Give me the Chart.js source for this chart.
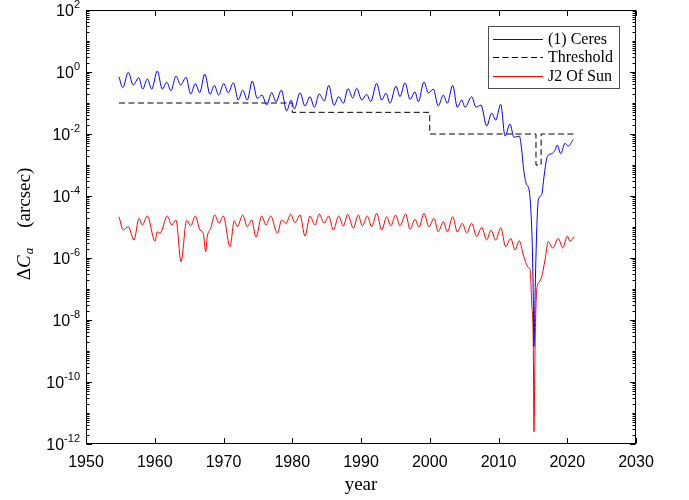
<!DOCTYPE html>
<html><head><meta charset="utf-8">
<script src="https://cdn.jsdelivr.net/npm/chart.js@4/dist/chart.umd.min.js"></script>
<style>html,body{margin:0;padding:0;background:#fff;}canvas{display:block;}</style>
</head><body>
<canvas id="c" width="689" height="500"></canvas>
<script>
// ---- data ----
const ceresYears = [1954.8,1955.34,1956.15,1956.88,1957.67,1958.25,1958.92,1959.56,1960.37,1961.10,1961.74,1962.36,1963.09,1963.77,1964.55,1965.23,1965.90,1966.54,1967.27,1968.04,1968.66,1969.30,1970.03,1970.70,1971.43,1972.15,1972.79,1973.46,1974.19,1974.92,1975.60,1976.28,1977.01,1977.64,1978.41,1979.19,1979.82,1980.30,1981.13,1981.85,1982.58,1983.21,1983.93,1984.66,1985.30,1986.07,1986.76,1987.43,1988.11,1988.79,1989.37,1990.10,1990.83,1991.41,1992.28,1993.01,1993.64,1994.22,1995.09,1995.67,1996.40,1997.13,1997.85,1998.33,1999.16,1999.79,2000.52,2001.24,2001.97,2002.55,2003.34,2004.01,2004.65,2005.13,2006.10,2006.73,2007.45,2008.28,2009.01,2009.59,2010.32,2010.95,2011.67,2012.25,2013.03,2013.37,2013.61,2014.00,2014.48,2014.73,2014.92,2015.06,2015.16,2015.31,2015.56,2015.79,2016.28,2016.62,2017.01,2017.24,2017.74,2018.22,2018.55,2019.05,2019.67,2020.15,2020.88];
const ceresValues = [0.70,0.31,0.98,0.38,0.66,0.28,0.60,0.28,1.08,0.28,0.47,0.25,0.74,0.38,0.68,0.195,0.42,0.215,0.86,0.19,0.37,0.18,0.42,0.215,0.45,0.125,0.26,0.125,0.51,0.14,0.18,0.086,0.215,0.11,0.26,0.055,0.125,0.064,0.215,0.080,0.16,0.073,0.195,0.116,0.37,0.084,0.16,0.098,0.29,0.145,0.30,0.125,0.19,0.11,0.43,0.125,0.21,0.098,0.35,0.16,0.45,0.13,0.23,0.11,0.48,0.21,0.28,0.080,0.18,0.098,0.37,0.073,0.125,0.073,0.16,0.073,0.086,0.018,0.047,0.028,0.091,0.0086,0.021,0.0078,0.0086,0.0031,0.00088,0.00026,0.000145,2.8e-5,2.3e-6,5.6e-8,1.4e-9,5.6e-8,8.0e-6,7.4e-5,1.1e-4,4.2e-4,1.6e-3,2.1e-3,2.3e-3,3.0e-3,4.4e-3,2.3e-3,5.0e-3,4.1e-3,6.7e-3];

const j2Years = [1954.8,1955.43,1956.15,1956.98,1957.71,1958.19,1958.92,1960.04,1960.37,1960.76,1961.83,1962.47,1963.09,1963.82,1964.65,1965.23,1965.90,1966.58,1967.06,1967.41,1967.64,1968.14,1968.72,1969.35,1969.97,1970.95,1971.57,1972.01,1972.79,1973.46,1974.10,1974.73,1975.56,1976.18,1976.87,1977.83,1978.47,1979.09,1979.77,1980.40,1981.13,1981.85,1982.58,1983.31,1983.93,1984.62,1985.30,1985.97,1986.76,1987.43,1988.07,1988.88,1989.61,1990.19,1990.92,1991.56,1992.28,1993.01,1993.74,1994.32,1995.05,1995.67,1996.50,1997.13,1997.85,1998.44,1999.16,1999.89,2000.62,2001.24,2001.97,2002.55,2003.34,2004.01,2004.74,2005.37,2006.10,2006.83,2007.56,2008.28,2008.91,2009.59,2010.32,2011.05,2011.77,2012.40,2013.03,2013.61,2014.33,2014.58,2014.83,2015.06,2015.16,2015.31,2015.56,2015.93,2016.28,2016.76,2017.24,2017.88,2018.70,2019.34,2020.01,2020.40,2020.98];
const j2Values = [2.15e-5,8.0e-6,1.02e-5,3.8e-6,1.9e-5,1.16e-5,2.26e-5,3.5e-6,7.0e-6,6.3e-6,2.26e-5,1.16e-5,1.68e-5,7.6e-7,1.68e-5,1.08e-5,2.26e-5,8.0e-6,6.3e-6,1.6e-6,4.9e-6,9.1e-6,2.44e-5,1.32e-5,2.26e-5,2.3e-6,1.6e-5,1.02e-5,2.44e-5,1.02e-5,1.68e-5,4.7e-6,2.26e-5,1.16e-5,2.26e-5,6.3e-6,1.68e-5,1.32e-5,2.57e-5,1.38e-5,2.44e-5,5.1e-6,2.26e-5,1.16e-5,2.63e-5,1.32e-5,2.26e-5,8.0e-6,2.26e-5,1.08e-5,2.57e-5,9.1e-6,2.44e-5,1.08e-5,2.26e-5,1.02e-5,2.77e-5,8.0e-6,2.15e-5,1.08e-5,2.44e-5,1.08e-5,2.63e-5,8.4e-6,1.77e-5,9.8e-6,2.77e-5,1.02e-5,1.91e-5,7.0e-6,1.48e-5,7.0e-6,2.15e-5,7.0e-6,1.32e-5,6.5e-6,1.32e-5,4.9e-6,9.8e-6,3.8e-6,8.0e-6,3.8e-6,9.5e-6,2.3e-6,4.3e-6,1.8e-6,3.6e-6,1.25e-6,5.0e-7,4.3e-7,3.5e-8,1.4e-9,2.5e-12,1.1e-9,9.3e-8,1.7e-7,2.5e-7,8.6e-7,3.4e-6,2.1e-6,4.3e-6,2.1e-6,5.1e-6,3.4e-6,4.9e-6];

const thresholdYears = [1954.8,1980,2000,2015.45,2016.2,2021.0];
const thresholdValues = [0.1,0.05,0.01,0.001,0.01,0.01];

const seriesNames = ['(1) Ceres','Threshold','J2 Of Sun'];
const xTickValues = [1950,1960,1970,1980,1990,2000,2010,2020,2030];
const yLabelExponents = [2,0,-2,-4,-6,-8,-10,-12];
const xTitle = 'year';

function pts(xs, ys){ return xs.map((x,i)=>({x:x, y:ys[i]})); }

const SANS = '"Liberation Sans", Arial, sans-serif';
const SERIF = '"Liberation Serif", "Times New Roman", serif';

const decor = {
  id:'decor',
  afterDatasetsDraw(chart){
    const {ctx, chartArea:a, scales} = chart;
    const xs = scales.x, ys = scales.y;
    ctx.save();
    ctx.strokeStyle = '#000'; ctx.lineWidth = 1;
    ctx.beginPath();
    const L = Math.round(a.left)+0.5, R = Math.round(a.right)-0.5, T = Math.round(a.top)+0.5, B = Math.round(a.bottom)-0.5;
    xTickValues.forEach(v=>{
      const px = Math.round(xs.getPixelForValue(v))+0.5;
      ctx.moveTo(px,B); ctx.lineTo(px,B-5.5);
      ctx.moveTo(px,T); ctx.lineTo(px,T+5.5);
    });
    for (let e=-12;e<=2;e++){
      for (let m=1;m<=9;m++){
        if (e===2 && m>1) break;
        const v = m*Math.pow(10,e);
        const py = Math.round(ys.getPixelForValue(v))+0.5;
        const len = (m===1 && e%2===0) ? 5.5 : 3;
        ctx.moveTo(L,py); ctx.lineTo(L+len,py);
        ctx.moveTo(R,py); ctx.lineTo(R-len,py);
      }
    }
    ctx.stroke();
    ctx.strokeRect(L,T,R-L,B-T);

    // y tick labels 10^n
    ctx.fillStyle = '#000';
    ctx.textBaseline = 'middle';
    yLabelExponents.forEach(e=>{
      const py = ys.getPixelForValue(Math.pow(10,e));
      const ex = String(e);
      ctx.font = '11px ' + SANS;
      ctx.textAlign = 'right';
      const w = ctx.measureText(ex).width;
      const rx = 80;
      ctx.fillText(ex, rx, py-5);
      ctx.font = '16px ' + SANS;
      ctx.fillText('10', rx - w, py+2);
    });

    // x title
    ctx.font = '19px ' + SERIF;
    ctx.textAlign = 'center';
    ctx.fillText(xTitle, (a.left+a.right)/2, 485);

    // y title (rotated)
    ctx.save();
    ctx.translate(25, 224);
    ctx.rotate(-Math.PI/2);
    const parts = [
      {t:'(arcsec)', f:'19px '+SERIF, dy:0},
    ];
    ctx.font = '19px '+SERIF; const wParen = ctx.measureText('(arcsec)').width;
    ctx.font = '19px '+SERIF; const wD = ctx.measureText('\u0394').width;
    ctx.font = 'italic 19px '+SERIF; const wC = ctx.measureText('C').width;
    ctx.font = 'italic 13px '+SERIF; const wa = ctx.measureText('a').width;
    const gap = 20;
    const total = wD + wC + 1 + wa + gap + wParen;
    let cx = -total/2;
    ctx.textAlign = 'left';
    ctx.font = '19px '+SERIF; ctx.fillText('\u0394', cx, 0); cx += wD;
    ctx.font = 'italic 19px '+SERIF; ctx.fillText('C', cx, 0); cx += wC + 1;
    ctx.font = 'italic 13px '+SERIF; ctx.fillText('a', cx, 5); cx += wa + gap;
    ctx.font = '19px '+SERIF; ctx.fillText('(arcsec)', cx, 0);
    ctx.restore();

    // legend
    const bx = 488.5, by = 26.5, bw = 131, bh = 62;
    ctx.fillStyle = '#fff';
    ctx.fillRect(bx,by,bw,bh);
    ctx.strokeStyle = '#4d4d4d';
    ctx.strokeRect(bx,by,bw,bh);
    const rows = [38.5, 57, 76];
    chart.data.datasets.forEach((ds,i)=>{
      ctx.save();
      ctx.strokeStyle = ds.borderColor;
      ctx.lineWidth = 1;
      ctx.setLineDash(ds.borderDash || []);
      ctx.beginPath();
      ctx.moveTo(493, Math.round(rows[i])+0.5);
      ctx.lineTo(543, Math.round(rows[i])+0.5);
      ctx.stroke();
      ctx.restore();
      ctx.fillStyle = '#000';
      ctx.font = '16px ' + SERIF;
      ctx.textAlign = 'left';
      ctx.textBaseline = 'middle';
      ctx.fillText(ds.label, 548, rows[i]+1);
    });
    ctx.restore();
  }
};

new Chart(document.getElementById('c'), {
  type:'line',
  data:{
    datasets:[
      {label:seriesNames[0], data:pts(ceresYears,ceresValues), borderColor:'#0000ff', borderWidth:1, pointRadius:0, cubicInterpolationMode:'monotone', fill:false},
      {label:seriesNames[1], data:pts(thresholdYears,thresholdValues), borderColor:'#000000', borderWidth:1, borderDash:[6,3.5], pointRadius:0, stepped:'before', fill:false},
      {label:seriesNames[2], data:pts(j2Years,j2Values), borderColor:'#ff0000', borderWidth:1, pointRadius:0, cubicInterpolationMode:'monotone', fill:false}
    ]
  },
  options:{
    responsive:false, animation:false, devicePixelRatio:1,
    layout:{padding:{left:0, top:10, right:53, bottom:0}},
    plugins:{legend:{display:false}, tooltip:{enabled:false}},
    scales:{
      x:{type:'linear', min:1950, max:2030,
         afterBuildTicks:s=>{ s.ticks = xTickValues.map(v=>({value:v})); },
         ticks:{callback:v=>String(v), font:{family:'Liberation Sans', size:16}, color:'#000', padding:9, maxRotation:0, autoSkip:false},
         grid:{display:false, drawTicks:false}, border:{display:false},
         afterFit:s=>{ s.height = 56; s.paddingLeft = 0; s.paddingRight = 0; }},
      y:{type:'logarithmic', min:1e-12, max:100,
         ticks:{display:false}, grid:{display:false, drawTicks:false}, border:{display:false},
         afterFit:s=>{ s.width = 86; s.paddingTop = 0; s.paddingBottom = 0; }}
    }
  },
  plugins:[decor]
});
</script>
</body></html>
